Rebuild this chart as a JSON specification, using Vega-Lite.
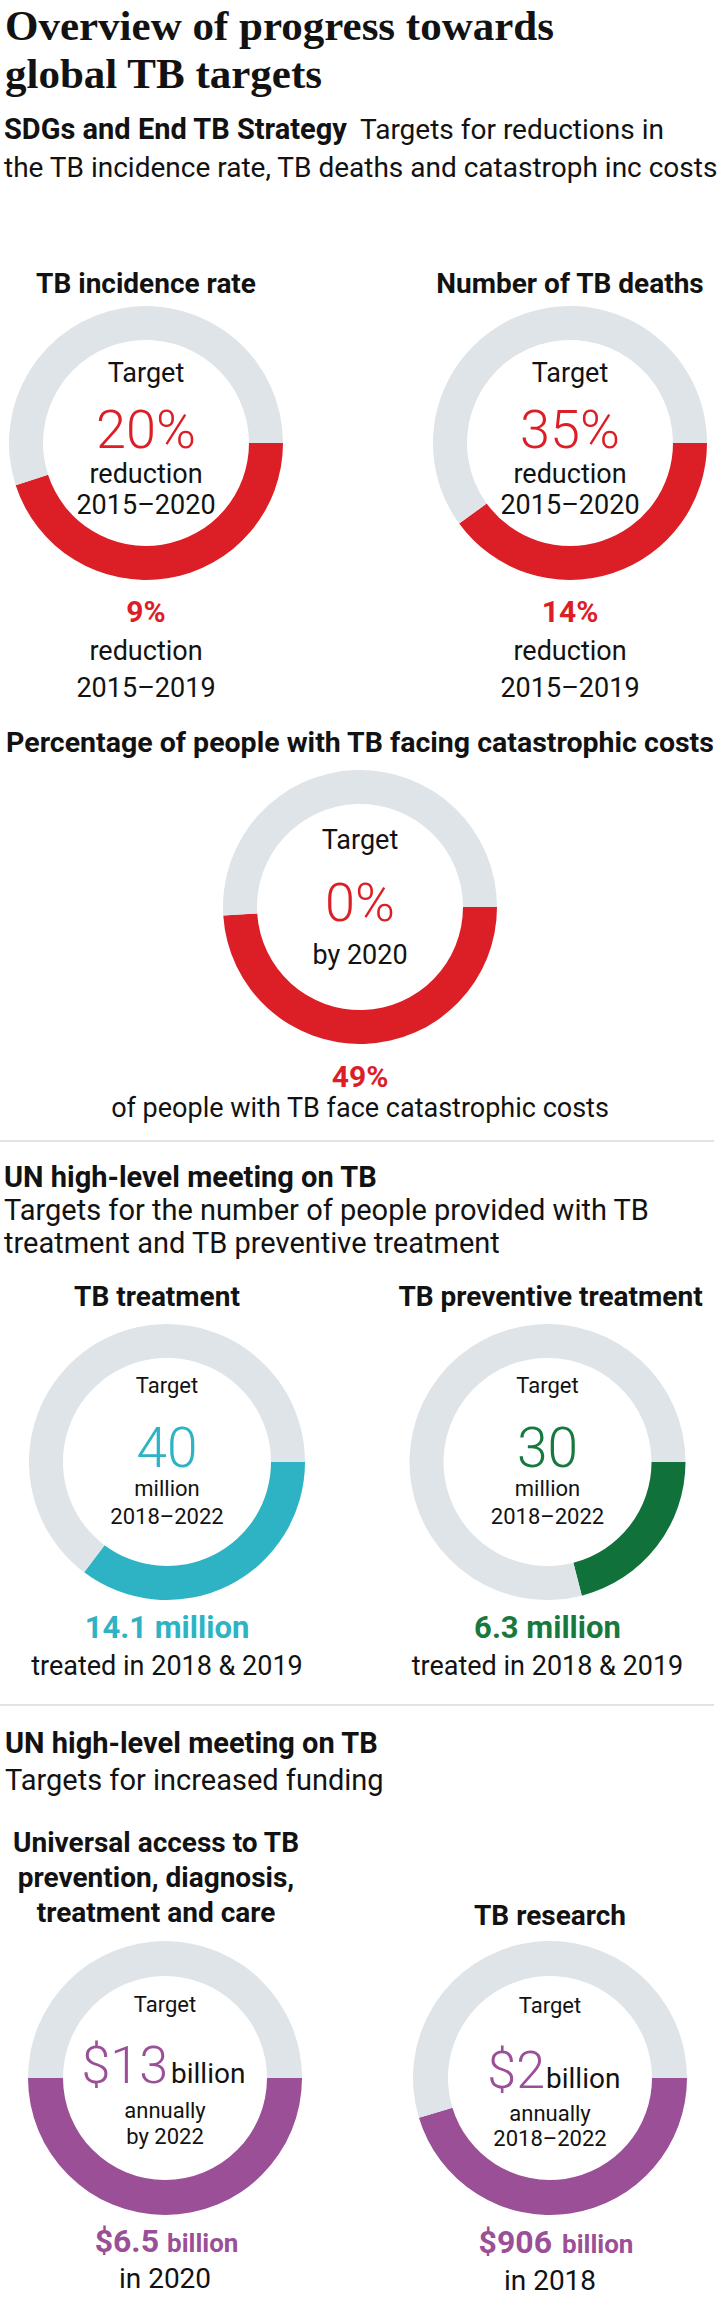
{
  "$schema": "https://vega.github.io/schema/vega-lite/v6.json",
  "padding": 0,
  "background": "white",
  "spacing": 0,
  "config": {
    "view": {"stroke": null},
    "text": {"font": "Roboto", "color": "#121212", "baseline": "alphabetic", "fontSize": 27}
  },
  "datasets": {
    "header": [{"title": ["Overview of progress towards", "global TB targets"], "s1b": "SDGs and End TB Strategy", "s1": "Targets for reductions in", "s2": "the TB incidence rate, TB deaths and catastroph inc costs"}],
    "incidence": [
      {"part": "achieved", "value": 9, "heading": "TB incidence rate", "label": "Target", "target": "20%", "unit": "reduction", "period": "2015–2020", "result": "9%", "note1": "reduction", "note2": "2015–2019"},
      {"part": "remaining", "value": 11}
    ],
    "deaths": [
      {"part": "achieved", "value": 14, "heading": "Number of TB deaths", "label": "Target", "target": "35%", "unit": "reduction", "period": "2015–2020", "result": "14%", "note1": "reduction", "note2": "2015–2019"},
      {"part": "remaining", "value": 21}
    ],
    "costs": [
      {"part": "achieved", "value": 49, "heading": "Percentage of people with TB facing catastrophic costs", "label": "Target", "target": "0%", "unit": "by 2020", "result": "49%", "note1": "of people with TB face catastrophic costs"},
      {"part": "remaining", "value": 51}
    ],
    "section2": [{"h": "UN high-level meeting on TB", "s1": "Targets for the number of people provided with TB", "s2": "treatment and TB preventive treatment"}],
    "treatment": [
      {"part": "achieved", "value": 14.1, "heading": "TB treatment", "label": "Target", "target": "40", "unit": "million", "period": "2018–2022", "result": "14.1 million", "note1": "treated in 2018 & 2019"},
      {"part": "remaining", "value": 25.9}
    ],
    "preventive": [
      {"part": "achieved", "value": 6.3, "heading": "TB preventive treatment", "label": "Target", "target": "30", "unit": "million", "period": "2018–2022", "result": "6.3 million", "note1": "treated in 2018 & 2019"},
      {"part": "remaining", "value": 23.7}
    ],
    "section3": [{"h": "UN high-level meeting on TB", "s1": "Targets for increased funding"}],
    "access": [
      {"part": "achieved", "value": 6.5, "h1": "Universal access to TB", "h2": "prevention, diagnosis,", "h3": "treatment and care", "label": "Target", "target": "$13", "scaleword": "billion", "unit": "annually", "period": "by 2022", "result": "$6.5", "resultunit": "billion", "note1": "in 2020"},
      {"part": "remaining", "value": 6.5}
    ],
    "research": [
      {"part": "achieved", "value": 906, "h1": "TB research", "label": "Target", "target": "$2", "scaleword": "billion", "unit": "annually", "period": "2018–2022", "result": "$906", "resultunit": "billion", "note1": "in 2018"},
      {"part": "remaining", "value": 1094}
    ],
    "divider": [{"kind": "divider"}]
  },
  "vconcat": [
    {
      "width": 720, "height": 200,
      "data": {"name": "header"},
      "layer": [
        {"mark": {"type": "text", "font": "Liberation Serif", "fontWeight": "bold", "fontSize": 43, "lineHeight": 48, "align": "left", "dx": -355, "dy": -60}, "encoding": {"text": {"field": "title"}}},
        {"mark": {"type": "text", "fontWeight": "bold", "fontSize": 29, "align": "left", "dx": -356, "dy": 39}, "encoding": {"text": {"field": "s1b"}}},
        {"mark": {"type": "text", "fontSize": 28, "align": "left", "dx": 0, "dy": 39}, "encoding": {"text": {"field": "s1"}}},
        {"mark": {"type": "text", "fontSize": 28, "align": "left", "dx": -356, "dy": 77}, "encoding": {"text": {"field": "s2"}}}
      ]
    },
    {
      "hconcat": [
        {"width": 292, "height": 106, "data": {"name": "incidence"}, "transform": [{"filter": "datum.part === 'achieved'"}], "mark": {"type": "text", "fontWeight": "bold", "fontSize": 28, "dy": 40}, "encoding": {"text": {"field": "heading"}}},
        {"width": 300, "height": 106, "data": {"name": "deaths"}, "transform": [{"filter": "datum.part === 'achieved'"}], "mark": {"type": "text", "fontWeight": "bold", "fontSize": 28, "dy": 40}, "encoding": {"text": {"field": "heading"}}}
      ],
      "spacing": 128
    },
    {
      "hconcat": [
        {
          "width": 292, "height": 274,
          "data": {"name": "incidence"},
          "layer": [
            {"mark": {"type": "arc", "innerRadius": 103, "outerRadius": 137}, "encoding": {"theta": {"field": "value", "type": "quantitative", "stack": true, "scale": {"range": [1.5708, 7.854]}}, "order": {"field": "part", "type": "nominal"}, "color": {"condition": {"test": "datum.part === 'achieved'", "value": "#dc1e26"}, "value": "#dfe4e9"}}},
            {"transform": [{"filter": "datum.part === 'achieved'"}], "mark": {"type": "text", "fontSize": 27, "dy": -61}, "encoding": {"text": {"field": "label"}}},
            {"transform": [{"filter": "datum.part === 'achieved'"}], "mark": {"type": "text", "fontSize": 54, "fontWeight": 300, "color": "#dc1e26", "dy": 5}, "encoding": {"text": {"field": "target"}}},
            {"transform": [{"filter": "datum.part === 'achieved'"}], "mark": {"type": "text", "fontSize": 27, "dy": 40}, "encoding": {"text": {"field": "unit"}}},
            {"transform": [{"filter": "datum.part === 'achieved'"}], "mark": {"type": "text", "fontSize": 27, "dy": 71}, "encoding": {"text": {"field": "period"}}}
          ]
        },
        {
          "width": 300, "height": 274,
          "data": {"name": "deaths"},
          "layer": [
            {"mark": {"type": "arc", "innerRadius": 103, "outerRadius": 137}, "encoding": {"theta": {"field": "value", "type": "quantitative", "stack": true, "scale": {"range": [1.5708, 7.854]}}, "order": {"field": "part", "type": "nominal"}, "color": {"condition": {"test": "datum.part === 'achieved'", "value": "#dc1e26"}, "value": "#dfe4e9"}}},
            {"transform": [{"filter": "datum.part === 'achieved'"}], "mark": {"type": "text", "fontSize": 27, "dy": -61}, "encoding": {"text": {"field": "label"}}},
            {"transform": [{"filter": "datum.part === 'achieved'"}], "mark": {"type": "text", "fontSize": 54, "fontWeight": 300, "color": "#dc1e26", "dy": 5}, "encoding": {"text": {"field": "target"}}},
            {"transform": [{"filter": "datum.part === 'achieved'"}], "mark": {"type": "text", "fontSize": 27, "dy": 40}, "encoding": {"text": {"field": "unit"}}},
            {"transform": [{"filter": "datum.part === 'achieved'"}], "mark": {"type": "text", "fontSize": 27, "dy": 71}, "encoding": {"text": {"field": "period"}}}
          ]
        }
      ],
      "spacing": 128
    },
    {
      "hconcat": [
        {
          "width": 292, "height": 140,
          "data": {"name": "incidence"},
          "transform": [{"filter": "datum.part === 'achieved'"}],
          "layer": [
            {"mark": {"type": "text", "fontWeight": "bold", "fontSize": 30, "color": "#dc1e26", "dy": -28}, "encoding": {"text": {"field": "result"}}},
            {"mark": {"type": "text", "fontSize": 27, "dy": 10}, "encoding": {"text": {"field": "note1"}}},
            {"mark": {"type": "text", "fontSize": 27, "dy": 47}, "encoding": {"text": {"field": "note2"}}}
          ]
        },
        {
          "width": 300, "height": 140,
          "data": {"name": "deaths"},
          "transform": [{"filter": "datum.part === 'achieved'"}],
          "layer": [
            {"mark": {"type": "text", "fontWeight": "bold", "fontSize": 30, "color": "#dc1e26", "dy": -28}, "encoding": {"text": {"field": "result"}}},
            {"mark": {"type": "text", "fontSize": 27, "dy": 10}, "encoding": {"text": {"field": "note1"}}},
            {"mark": {"type": "text", "fontSize": 27, "dy": 47}, "encoding": {"text": {"field": "note2"}}}
          ]
        }
      ],
      "spacing": 128
    },
    {"width": 720, "height": 50, "data": {"name": "costs"}, "transform": [{"filter": "datum.part === 'achieved'"}], "mark": {"type": "text", "fontWeight": "bold", "fontSize": 28.5, "dy": 7}, "encoding": {"text": {"field": "heading"}}},
    {
      "width": 720, "height": 274,
      "data": {"name": "costs"},
      "layer": [
        {"mark": {"type": "arc", "innerRadius": 103, "outerRadius": 137}, "encoding": {"theta": {"field": "value", "type": "quantitative", "stack": true, "scale": {"range": [1.5708, 7.854]}}, "order": {"field": "part", "type": "nominal"}, "color": {"condition": {"test": "datum.part === 'achieved'", "value": "#dc1e26"}, "value": "#dfe4e9"}}},
        {"transform": [{"filter": "datum.part === 'achieved'"}], "mark": {"type": "text", "fontSize": 27, "dy": -58}, "encoding": {"text": {"field": "label"}}},
        {"transform": [{"filter": "datum.part === 'achieved'"}], "mark": {"type": "text", "fontSize": 54, "fontWeight": 300, "color": "#dc1e26", "dy": 14}, "encoding": {"text": {"field": "target"}}},
        {"transform": [{"filter": "datum.part === 'achieved'"}], "mark": {"type": "text", "fontSize": 27, "dy": 57}, "encoding": {"text": {"field": "unit"}}}
      ]
    },
    {
      "width": 720, "height": 96,
      "data": {"name": "costs"},
      "transform": [{"filter": "datum.part === 'achieved'"}],
      "layer": [
        {"mark": {"type": "text", "fontWeight": "bold", "fontSize": 30, "color": "#dc1e26", "dy": -5}, "encoding": {"text": {"field": "result"}}},
        {"mark": {"type": "text", "fontSize": 27, "dy": 25}, "encoding": {"text": {"field": "note1"}}}
      ]
    },
    {"width": 714, "height": 2, "data": {"name": "divider"}, "mark": {"type": "rect", "color": "#dfe4e9"}, "encoding": {}},
    {
      "width": 720, "height": 128,
      "data": {"name": "section2"},
      "layer": [
        {"mark": {"type": "text", "fontWeight": "bold", "fontSize": 29, "align": "left", "dx": -356, "dy": -19}, "encoding": {"text": {"field": "h"}}},
        {"mark": {"type": "text", "fontSize": 29, "align": "left", "dx": -356, "dy": 14}, "encoding": {"text": {"field": "s1"}}},
        {"mark": {"type": "text", "fontSize": 29, "align": "left", "dx": -356, "dy": 47}, "encoding": {"text": {"field": "s2"}}}
      ]
    },
    {
      "hconcat": [
        {"width": 334, "height": 54, "data": {"name": "treatment"}, "transform": [{"filter": "datum.part === 'achieved'"}], "mark": {"type": "text", "fontWeight": "bold", "fontSize": 28, "dx": -10, "dy": 9}, "encoding": {"text": {"field": "heading"}}},
        {"width": 345, "height": 54, "data": {"name": "preventive"}, "transform": [{"filter": "datum.part === 'achieved'"}], "mark": {"type": "text", "fontWeight": "bold", "fontSize": 28, "dx": 3, "dy": 9}, "encoding": {"text": {"field": "heading"}}}
      ],
      "spacing": 41
    },
    {
      "hconcat": [
        {
          "width": 334, "height": 276,
          "data": {"name": "treatment"},
          "layer": [
            {"mark": {"type": "arc", "innerRadius": 104, "outerRadius": 138}, "encoding": {"theta": {"field": "value", "type": "quantitative", "stack": true, "scale": {"range": [1.5708, 7.854]}}, "order": {"field": "part", "type": "nominal"}, "color": {"condition": {"test": "datum.part === 'achieved'", "value": "#2db3c3"}, "value": "#dfe4e9"}}},
            {"transform": [{"filter": "datum.part === 'achieved'"}], "mark": {"type": "text", "fontSize": 22, "dy": -69}, "encoding": {"text": {"field": "label"}}},
            {"transform": [{"filter": "datum.part === 'achieved'"}], "mark": {"type": "text", "fontSize": 55, "fontWeight": 300, "color": "#2db3c3", "dy": 5}, "encoding": {"text": {"field": "target"}}},
            {"transform": [{"filter": "datum.part === 'achieved'"}], "mark": {"type": "text", "fontSize": 22, "dy": 34}, "encoding": {"text": {"field": "unit"}}},
            {"transform": [{"filter": "datum.part === 'achieved'"}], "mark": {"type": "text", "fontSize": 22, "dy": 62}, "encoding": {"text": {"field": "period"}}}
          ]
        },
        {
          "width": 345, "height": 276,
          "data": {"name": "preventive"},
          "layer": [
            {"mark": {"type": "arc", "innerRadius": 104, "outerRadius": 138}, "encoding": {"theta": {"field": "value", "type": "quantitative", "stack": true, "scale": {"range": [1.5708, 7.854]}}, "order": {"field": "part", "type": "nominal"}, "color": {"condition": {"test": "datum.part === 'achieved'", "value": "#11713b"}, "value": "#dfe4e9"}}},
            {"transform": [{"filter": "datum.part === 'achieved'"}], "mark": {"type": "text", "fontSize": 22, "dy": -69}, "encoding": {"text": {"field": "label"}}},
            {"transform": [{"filter": "datum.part === 'achieved'"}], "mark": {"type": "text", "fontSize": 55, "fontWeight": 300, "color": "#18793e", "dy": 5}, "encoding": {"text": {"field": "target"}}},
            {"transform": [{"filter": "datum.part === 'achieved'"}], "mark": {"type": "text", "fontSize": 22, "dy": 34}, "encoding": {"text": {"field": "unit"}}},
            {"transform": [{"filter": "datum.part === 'achieved'"}], "mark": {"type": "text", "fontSize": 22, "dy": 62}, "encoding": {"text": {"field": "period"}}}
          ]
        }
      ],
      "spacing": 41
    },
    {
      "hconcat": [
        {
          "width": 334, "height": 104,
          "data": {"name": "treatment"},
          "transform": [{"filter": "datum.part === 'achieved'"}],
          "layer": [
            {"mark": {"type": "text", "fontWeight": "bold", "fontSize": 31, "color": "#2db3c3", "dy": -14}, "encoding": {"text": {"field": "result"}}},
            {"mark": {"type": "text", "fontSize": 27, "dy": 23}, "encoding": {"text": {"field": "note1"}}}
          ]
        },
        {
          "width": 345, "height": 104,
          "data": {"name": "preventive"},
          "transform": [{"filter": "datum.part === 'achieved'"}],
          "layer": [
            {"mark": {"type": "text", "fontWeight": "bold", "fontSize": 31, "color": "#18793e", "dy": -14}, "encoding": {"text": {"field": "result"}}},
            {"mark": {"type": "text", "fontSize": 27, "dy": 23}, "encoding": {"text": {"field": "note1"}}}
          ]
        }
      ],
      "spacing": 41
    },
    {"width": 714, "height": 2, "data": {"name": "divider"}, "mark": {"type": "rect", "color": "#dfe4e9"}, "encoding": {}},
    {
      "width": 720, "height": 94,
      "data": {"name": "section3"},
      "layer": [
        {"mark": {"type": "text", "fontWeight": "bold", "fontSize": 29, "align": "left", "dx": -355, "dy": 0}, "encoding": {"text": {"field": "h"}}},
        {"mark": {"type": "text", "fontSize": 29, "align": "left", "dx": -355, "dy": 37}, "encoding": {"text": {"field": "s1"}}}
      ]
    },
    {
      "hconcat": [
        {
          "width": 330, "height": 141,
          "data": {"name": "access"},
          "transform": [{"filter": "datum.part === 'achieved'"}],
          "layer": [
            {"mark": {"type": "text", "fontWeight": "bold", "fontSize": 28, "dx": -9, "dy": -18.5}, "encoding": {"text": {"field": "h1"}}},
            {"mark": {"type": "text", "fontWeight": "bold", "fontSize": 28, "dx": -9, "dy": 16.5}, "encoding": {"text": {"field": "h2"}}},
            {"mark": {"type": "text", "fontWeight": "bold", "fontSize": 28, "dx": -9, "dy": 51.5}, "encoding": {"text": {"field": "h3"}}}
          ]
        },
        {"width": 340, "height": 141, "data": {"name": "research"}, "transform": [{"filter": "datum.part === 'achieved'"}], "mark": {"type": "text", "fontWeight": "bold", "fontSize": 28, "dy": 54.5}, "encoding": {"text": {"field": "h1"}}}
      ],
      "spacing": 50
    },
    {
      "hconcat": [
        {
          "width": 330, "height": 274,
          "data": {"name": "access"},
          "layer": [
            {"mark": {"type": "arc", "innerRadius": 102, "outerRadius": 137}, "encoding": {"theta": {"field": "value", "type": "quantitative", "stack": true, "scale": {"range": [1.5708, 7.854]}}, "order": {"field": "part", "type": "nominal"}, "color": {"condition": {"test": "datum.part === 'achieved'", "value": "#9b4f97"}, "value": "#dfe4e9"}}},
            {"transform": [{"filter": "datum.part === 'achieved'"}], "mark": {"type": "text", "fontSize": 22, "dy": -66}, "encoding": {"text": {"field": "label"}}},
            {"transform": [{"filter": "datum.part === 'achieved'"}], "mark": {"type": "text", "fontSize": 52, "fontWeight": 300, "color": "#9b4f97", "align": "right", "dx": 3, "dy": 5}, "encoding": {"text": {"field": "target"}}},
            {"transform": [{"filter": "datum.part === 'achieved'"}], "mark": {"type": "text", "fontSize": 28, "align": "left", "dx": 6, "dy": 5}, "encoding": {"text": {"field": "scaleword"}}},
            {"transform": [{"filter": "datum.part === 'achieved'"}], "mark": {"type": "text", "fontSize": 22, "dy": 40}, "encoding": {"text": {"field": "unit"}}},
            {"transform": [{"filter": "datum.part === 'achieved'"}], "mark": {"type": "text", "fontSize": 22, "dy": 66}, "encoding": {"text": {"field": "period"}}}
          ]
        },
        {
          "width": 340, "height": 274,
          "data": {"name": "research"},
          "layer": [
            {"mark": {"type": "arc", "innerRadius": 102, "outerRadius": 137}, "encoding": {"theta": {"field": "value", "type": "quantitative", "stack": true, "scale": {"range": [1.5708, 7.854]}}, "order": {"field": "part", "type": "nominal"}, "color": {"condition": {"test": "datum.part === 'achieved'", "value": "#9b4f97"}, "value": "#dfe4e9"}}},
            {"transform": [{"filter": "datum.part === 'achieved'"}], "mark": {"type": "text", "fontSize": 22, "dy": -65}, "encoding": {"text": {"field": "label"}}},
            {"transform": [{"filter": "datum.part === 'achieved'"}], "mark": {"type": "text", "fontSize": 52, "fontWeight": 300, "color": "#9b4f97", "align": "right", "dx": -5, "dy": 10}, "encoding": {"text": {"field": "target"}}},
            {"transform": [{"filter": "datum.part === 'achieved'"}], "mark": {"type": "text", "fontSize": 28, "align": "left", "dx": -4, "dy": 10}, "encoding": {"text": {"field": "scaleword"}}},
            {"transform": [{"filter": "datum.part === 'achieved'"}], "mark": {"type": "text", "fontSize": 22, "dy": 43}, "encoding": {"text": {"field": "unit"}}},
            {"transform": [{"filter": "datum.part === 'achieved'"}], "mark": {"type": "text", "fontSize": 22, "dy": 68}, "encoding": {"text": {"field": "period"}}}
          ]
        }
      ],
      "spacing": 50
    },
    {
      "hconcat": [
        {
          "width": 330, "height": 87,
          "data": {"name": "access"},
          "transform": [{"filter": "datum.part === 'achieved'"}],
          "layer": [
            {"mark": {"type": "text", "fontWeight": "bold", "fontSize": 32, "color": "#9b4f97", "align": "right", "dx": -6, "dy": -6.5}, "encoding": {"text": {"field": "result"}}},
            {"mark": {"type": "text", "fontWeight": "bold", "fontSize": 26, "color": "#9b4f97", "align": "left", "dx": 2, "dy": -6.5}, "encoding": {"text": {"field": "resultunit"}}},
            {"mark": {"type": "text", "fontSize": 28, "dy": 29.5}, "encoding": {"text": {"field": "note1"}}}
          ]
        },
        {
          "width": 340, "height": 87,
          "data": {"name": "research"},
          "transform": [{"filter": "datum.part === 'achieved'"}],
          "layer": [
            {"mark": {"type": "text", "fontWeight": "bold", "fontSize": 32, "color": "#9b4f97", "align": "right", "dx": 2, "dy": -5.5}, "encoding": {"text": {"field": "result"}}},
            {"mark": {"type": "text", "fontWeight": "bold", "fontSize": 26, "color": "#9b4f97", "align": "left", "dx": 12, "dy": -5.5}, "encoding": {"text": {"field": "resultunit"}}},
            {"mark": {"type": "text", "fontSize": 28, "dy": 31.5}, "encoding": {"text": {"field": "note1"}}}
          ]
        }
      ],
      "spacing": 50
    }
  ]
}
